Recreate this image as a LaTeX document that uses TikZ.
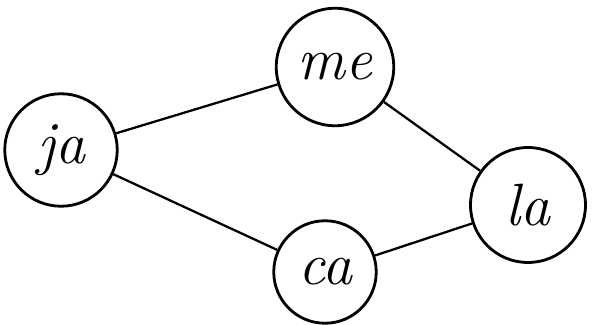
\documentclass[tikz,border=0pt]{standalone}
\usepackage{tikz}
\begin{document}
\begin{tikzpicture}[
		x=0.02cm, y=-0.02cm,
		font=\fontsize{34}{38}\selectfont\itshape,
		syl/.style={draw, circle, line width=1.6pt, minimum size=2.2cm,
			inner sep=0pt},
		edge/.style={line width=1.3pt},
	]
		\useasboundingbox (0,0) rectangle (593,325);
		% Silben als Kreise mit absoluten Koordinaten
		\node[syl, minimum size=2.25cm] (ja) at (61,150) {ja};
		\node[syl, minimum size=2.35cm] (me) at (335,67) {me};
		\node[syl, minimum size=2.3cm] (la) at (528,205) {la};
		\node[syl, minimum size=2.05cm] (ca) at (325,272) {ca};

		% Verbindungen
		\draw[edge] (ja) -- (me);
		\draw[edge] (me) -- (la);
		\draw[edge] (ja) -- (ca);
		\draw[edge] (ca) -- (la);
	\end{tikzpicture}
\end{document}
